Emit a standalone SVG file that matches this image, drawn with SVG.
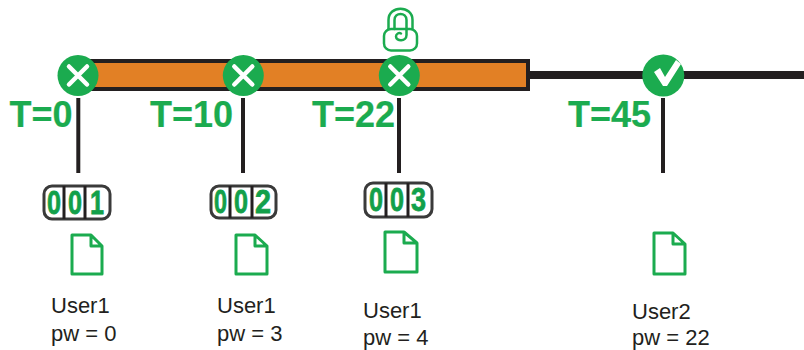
<svg xmlns="http://www.w3.org/2000/svg" width="804" height="350" viewBox="0 0 804 350">
<style>
.t{font:bold 36px "Liberation Sans",Arial,sans-serif;fill:#1bab4f;stroke:#1bab4f;stroke-width:.2}
.l{font:22px "Liberation Sans",Arial,sans-serif;fill:#231f20}
.d{font:bold 34px "Liberation Sans",Arial,sans-serif;fill:#12a04a;stroke:#12a04a;stroke-width:.8}
.c{fill:#fff;stroke:#3a3a3a;stroke-width:3}
.v{stroke:#231f20;stroke-width:3;fill:none}
.doc{fill:#fff;stroke:#1bab4f;stroke-width:3;stroke-linejoin:round}
.k{fill:#1bab4f}
.x{stroke:#fff;stroke-width:4.500;stroke-linecap:round;fill:none}
.s{stroke:#231f20;stroke-width:4}
</style>
<g id="connectors">
<rect x="528" y="71" width="276" height="8" fill="#231f20"/>
<line class="s" x1="78.300" y1="98" x2="78.300" y2="173"/>
<line class="s" x1="243" y1="98" x2="243" y2="173"/>
<line class="s" x1="399" y1="98" x2="399" y2="173"/>
<line class="s" x1="663" y1="98" x2="663" y2="173"/>
</g>
<g id="bar"><rect x="80" y="61" width="448" height="28" fill="#e28025" stroke="#231f20" stroke-width="4"/></g>
<g id="lock" fill="none" stroke="#1bab4f" stroke-width="2.500" stroke-linecap="round">
<rect x="384" y="29" width="33" height="21.500" rx="7"/>
<path d="M388.500 29V20C388.500 5 412.500 5 412.500 20V28"/>
<path d="M394.500 29V20C394.500 12 406.500 12 406.500 20V35C406.500 42 396 41.500 396 36.500C396 33.500 399 32.500 401 33.500"/>
</g>
<g id="node-t0"><circle class="k" cx="78" cy="75.500" r="20.500"/><path class="x" d="M69 66.500L87 84.500M87 66.500L69 84.500"/>
<text class="t" x="9.500" y="127">T=0</text></g>
<g id="node-t10"><circle class="k" cx="243.300" cy="75.500" r="20.500"/><path class="x" d="M234.300 66.500L252.300 84.500M252.300 66.500L234.300 84.500"/>
<text class="t" x="150" y="127">T=10</text></g>
<g id="node-t22"><circle class="k" cx="399.300" cy="75.500" r="20.500"/><path class="x" d="M390.300 66.500L408.300 84.500M408.300 66.500L390.300 84.500"/>
<text class="t" x="312" y="127">T=22</text></g>
<g id="node-t45"><circle class="k" cx="663.300" cy="75.500" r="21"/><path fill="#fff" d="M654 72L660 68L665 77L676 60L681 64L667 86H663Z"/>
<text class="t" x="568" y="127">T=45</text></g>
<g id="counter-001"><rect class="c" x="44" y="186" width="66" height="33" rx="8"/><path class="v" d="M64 186V219M85 186V219"/>
<text class="d" x="47" y="214" textLength="14" lengthAdjust="spacingAndGlyphs">0</text><text class="d" x="68" y="214" textLength="14" lengthAdjust="spacingAndGlyphs">0</text><text class="d" x="90" y="214" textLength="14" lengthAdjust="spacingAndGlyphs">1</text></g>
<g id="counter-002"><rect class="c" x="211" y="186" width="65" height="32" rx="8"/><path class="v" d="M230 186V218M252 186V218"/>
<text class="d" x="214" y="213" textLength="13" lengthAdjust="spacingAndGlyphs">0</text><text class="d" x="234" y="213" textLength="14" lengthAdjust="spacingAndGlyphs">0</text><text class="d" x="255" y="213" textLength="16" lengthAdjust="spacingAndGlyphs">2</text></g>
<g id="counter-003"><rect class="c" x="365" y="183" width="67" height="34" rx="8"/><path class="v" d="M386 183V217M408 183V217"/>
<text class="d" x="369" y="211" textLength="14" lengthAdjust="spacingAndGlyphs">0</text><text class="d" x="390" y="211" textLength="14" lengthAdjust="spacingAndGlyphs">0</text><text class="d" x="411" y="211" textLength="15" lengthAdjust="spacingAndGlyphs">3</text></g>
<g id="doc-1"><path class="doc" d="M72 235H91V246H102V274H72ZM91 235L102 246"/></g>
<g id="doc-2"><path class="doc" d="M236 235H255V246H267V274H236ZM255 235L267 246"/></g>
<g id="doc-3"><path class="doc" d="M385 232H404V243H417V272H385ZM404 232L417 243"/></g>
<g id="doc-4"><path class="doc" d="M654 233H673V244H685V274H654ZM673 233L685 244"/></g>
<g id="label-1"><text class="l" x="51" y="313">User1</text><text class="l" x="51" y="341">pw = 0</text></g>
<g id="label-2"><text class="l" x="217" y="313">User1</text><text class="l" x="217" y="341">pw = 3</text></g>
<g id="label-3"><text class="l" x="363" y="318">User1</text><text class="l" x="363" y="345">pw = 4</text></g>
<g id="label-4"><text class="l" x="632" y="318.500">User2</text><text class="l" x="632" y="345">pw = 22</text></g>
</svg>
